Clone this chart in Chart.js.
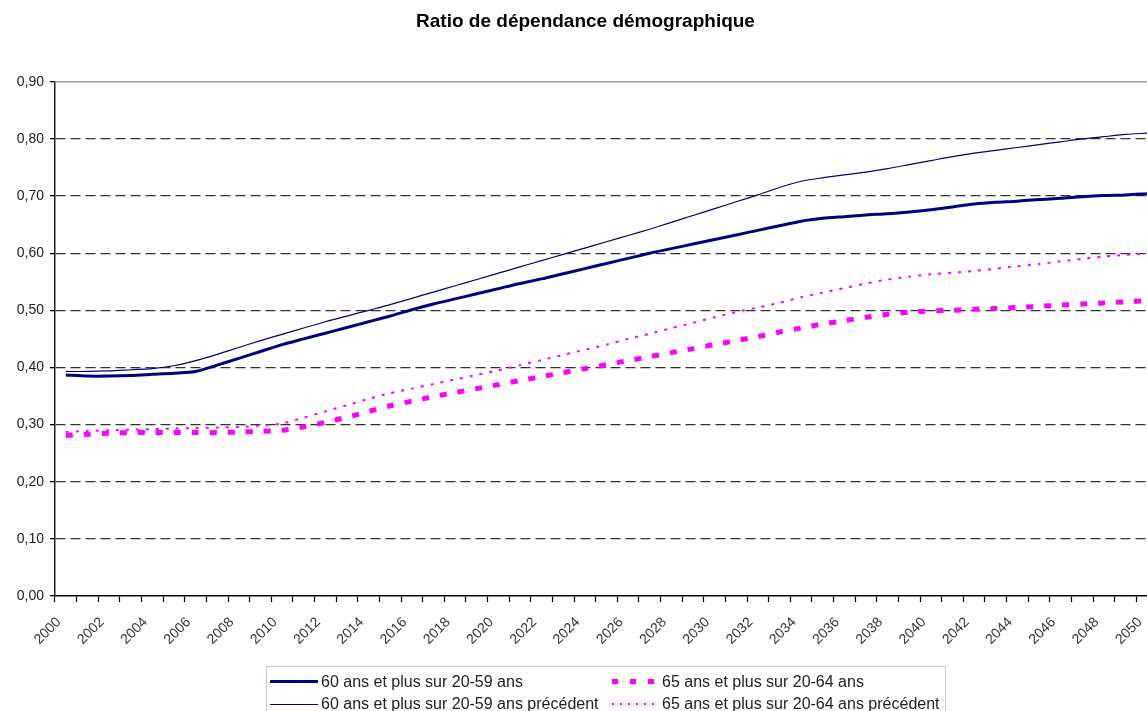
<!DOCTYPE html>
<html>
<head>
<meta charset="utf-8">
<script src="https://cdn.jsdelivr.net/npm/chart.js@4"></script>
<style>
  html, body { margin: 0; padding: 0; background: #fff; overflow: hidden; }
  #wrap { position: relative; width: 1147px; height: 711px; overflow: hidden; }
  #chart { position: absolute; left: 0; top: 0; }
  #legend {
    position: absolute; left: 266px; top: 666px; width: 680px; height: 60px;
    border: 1px solid #c8c8c8; box-sizing: border-box;
    font-family: "Liberation Sans", Arial, sans-serif; font-size: 16px; color: #222;
  }
  .item { position: absolute; height: 22px; line-height: 22px; white-space: nowrap; }
  .sample { position: absolute; }
  .txt { position: absolute; top: 0; }
</style>
</head>
<body>
<div id="wrap">
  <canvas id="chart" width="1171" height="711"></canvas>
  <div id="legend"></div>
</div>
<script>
    const years = [];
    for (let y = 2000; y <= 2050; y++) years.push(String(y));

    const yTicks = [0, 0.1, 0.2, 0.3, 0.4, 0.5, 0.6, 0.7, 0.8, 0.9];

    // 60 ans et plus sur 20-59 ans
    const ratio60 = [
        0.387, 0.385, 0.385, 0.386, 0.388, 0.390, 0.393, 0.404, 0.416, 0.428,
        0.440, 0.450, 0.460, 0.470, 0.480, 0.490, 0.501, 0.511, 0.520, 0.529,
        0.538, 0.547, 0.555, 0.564, 0.573, 0.582, 0.591, 0.600, 0.608, 0.616,
        0.624, 0.632, 0.640, 0.648, 0.656, 0.661, 0.664, 0.667, 0.669, 0.672,
        0.676, 0.681, 0.686, 0.689, 0.691, 0.694, 0.696, 0.699, 0.701, 0.702,
        0.704
    ];
    // 60 ans et plus sur 20-59 ans précédent
    const ratio60Prev = [
        0.393, 0.393, 0.394, 0.396, 0.398, 0.403, 0.412, 0.423, 0.435, 0.447,
        0.458, 0.469, 0.480, 0.490, 0.500, 0.510, 0.521, 0.532, 0.543, 0.554,
        0.565, 0.576, 0.587, 0.598, 0.609, 0.620, 0.631, 0.642, 0.654, 0.666,
        0.678, 0.690, 0.702, 0.715, 0.726, 0.732, 0.737, 0.742, 0.748, 0.755,
        0.762, 0.769, 0.775, 0.780, 0.785, 0.790, 0.795, 0.800, 0.804, 0.808,
        0.810
    ];
    // 65 ans et plus sur 20-64 ans
    const ratio65 = [
        0.281, 0.283, 0.285, 0.286, 0.286, 0.286, 0.286, 0.286, 0.287, 0.288,
        0.290, 0.296, 0.304, 0.313, 0.323, 0.333, 0.341, 0.349, 0.356, 0.363,
        0.370, 0.377, 0.384, 0.391, 0.398, 0.405, 0.412, 0.419, 0.426, 0.433,
        0.440, 0.447, 0.454, 0.462, 0.469, 0.476, 0.482, 0.488, 0.493, 0.497,
        0.499, 0.500, 0.502, 0.503, 0.505, 0.507, 0.509, 0.511, 0.513, 0.515,
        0.517
    ];
    // 65 ans et plus sur 20-64 ans précédent
    const ratio65Prev = [
        0.287, 0.289, 0.290, 0.291, 0.292, 0.293, 0.294, 0.295, 0.296, 0.298,
        0.302, 0.312, 0.323, 0.334, 0.345, 0.355, 0.363, 0.371, 0.379, 0.387,
        0.395, 0.404, 0.413, 0.422, 0.431, 0.440, 0.450, 0.459, 0.469, 0.478,
        0.488, 0.497, 0.505, 0.513, 0.523, 0.531, 0.539, 0.547, 0.554, 0.559,
        0.563, 0.566, 0.569, 0.573, 0.577, 0.581, 0.586, 0.590, 0.594, 0.597,
        0.600
    ];

    const NAVY = "#000080";
    const MAGENTA = "#ff00ff";
    const FONT = "'Liberation Sans', Arial, sans-serif";

    const series = [
        { label: "60 ans et plus sur 20-59 ans", data: ratio60, color: NAVY, width: 3, dash: [] },
        { label: "60 ans et plus sur 20-59 ans précédent", data: ratio60Prev, color: NAVY, width: 1.2, dash: [] },
        { label: "65 ans et plus sur 20-64 ans", data: ratio65, color: MAGENTA, width: 5, dash: [7, 11] },
        { label: "65 ans et plus sur 20-64 ans précédent", data: ratio65Prev, color: MAGENTA, width: 2, dash: [3, 7] }
    ];

    // grey frame line on top of the plot (0,90)
    const frameTop = {
        id: "frameTop",
        afterDraw(chart) {
            const { ctx, chartArea } = chart;
            ctx.save();
            ctx.strokeStyle = "#a0a0a0";
            ctx.lineWidth = 1.5;
            ctx.beginPath();
            ctx.moveTo(chartArea.left, chartArea.top);
            ctx.lineTo(chartArea.right + 20, chartArea.top);
            ctx.stroke();
            ctx.restore();
        }
    };

    const fmt = (v) => Number(v).toFixed(2).replace(".", ",");

    new Chart(document.getElementById("chart").getContext("2d"), {
        type: "line",
        data: {
            labels: years,
            datasets: series.map(s => ({
                label: s.label,
                data: s.data,
                borderColor: s.color,
                backgroundColor: s.color,
                borderWidth: s.width,
                borderDash: s.dash,
                pointRadius: 0,
                tension: 0.25,
                fill: false
            }))
        },
        options: {
            responsive: false,
            animation: false,
            layout: { padding: { left: 0, right: 0, top: 0, bottom: 0 } },
            plugins: {
                legend: { display: false },
                tooltip: { enabled: false },
                title: {
                    display: true,
                    text: "Ratio de dépendance démographique",
                    color: "#000",
                    font: { family: FONT, size: 19, weight: "bold" },
                    padding: { top: 10, bottom: 49 }
                }
            },
            scales: {
                x: {
                    offset: true,
                    afterFit: (s) => { s.height = 115; },
                    grid: { offset: true, drawOnChartArea: false, drawTicks: true, tickLength: 6, tickColor: "#000", tickWidth: 1.2 },
                    border: { display: true, color: "#000", width: 1.5 },
                    ticks: {
                        autoSkip: false,
                        minRotation: 45,
                        maxRotation: 45,
                        padding: 12,
                        labelOffset: -7,
                        color: "#333",
                        font: { family: FONT, size: 14 },
                        callback: (v, i) => (i % 2 === 0 ? years[i] : "")
                    }
                },
                y: {
                    min: 0,
                    max: 0.9,
                    afterFit: (s) => { s.width = 55; },
                    afterBuildTicks: (s) => { s.ticks = yTicks.map(v => ({ value: v })); },
                    grid: {
                        color: (c) => (c.tick && (c.tick.value === 0 || Math.abs(c.tick.value - 0.9) < 1e-9) ? "rgba(0,0,0,0)" : "#333"),
                        lineWidth: 1.3,
                        drawTicks: true,
                        tickLength: 5,
                        tickColor: "#000",
                        tickBorderDash: []
                    },
                    border: { display: true, color: "#222", width: 1.5, dash: [10, 5] },
                    ticks: {
                        padding: 6,
                        color: "#222",
                        font: { family: FONT, size: 14 },
                        callback: (v) => fmt(v)
                    }
                }
            }
        },
        plugins: [frameTop]
    });

    // legend in two columns, as in the original
    const legendItems = [
        { s: series[0], left: 3, top: 4, sw: 48, gap: 3, sample: "solid3" },
        { s: series[1], left: 3, top: 26, sw: 48, gap: 3, sample: "solid1" },
        { s: series[2], left: 345, top: 4, sw: 45, gap: 5, sample: "dash" },
        { s: series[3], left: 345, top: 26, sw: 45, gap: 5, sample: "dot" }
    ];
    const legend = document.getElementById("legend");
    legendItems.forEach(it => {
        const item = document.createElement("div");
        item.className = "item";
        item.style.left = it.left + "px";
        item.style.top = it.top + "px";
        const smp = document.createElement("div");
        smp.className = "sample";
        smp.style.left = "0px";
        smp.style.width = it.sw + "px";
        if (it.sample === "solid3") {
            smp.style.height = "3px"; smp.style.background = NAVY; smp.style.top = "9px";
        } else if (it.sample === "solid1") {
            smp.style.height = "1px"; smp.style.background = NAVY; smp.style.top = "11px";
        } else if (it.sample === "dash") {
            smp.style.height = "5px"; smp.style.top = "8px";
            smp.style.background = `repeating-linear-gradient(to right, ${MAGENTA} 0 6px, transparent 6px 18px)`;
        } else {
            smp.style.height = "2px"; smp.style.top = "10px";
            smp.style.background = `repeating-linear-gradient(to right, ${MAGENTA} 0 2px, transparent 2px 8px)`;
        }
        const txt = document.createElement("span");
        txt.className = "txt";
        txt.style.left = (it.sw + it.gap) + "px";
        txt.textContent = it.s.label;
        item.appendChild(smp);
        item.appendChild(txt);
        legend.appendChild(item);
    });
</script>
</body>
</html>
